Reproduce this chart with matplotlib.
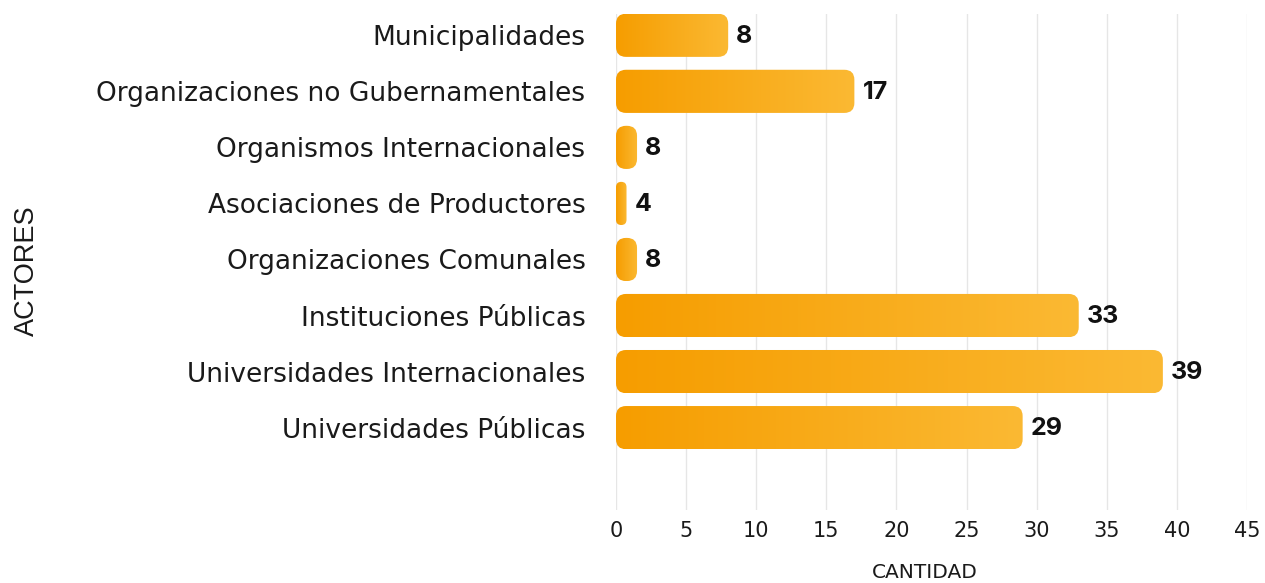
import matplotlib.pyplot as plt
import numpy as np
from matplotlib.patches import FancyBboxPatch
from matplotlib.colors import LinearSegmentedColormap

# datos (de abajo hacia arriba)
actores = [
    'Universidades Públicas',
    'Universidades Internacionales',
    'Instituciones Públicas',
    'Organizaciones Comunales',
    'Asociaciones de Productores',
    'Organismos Internacionales',
    'Organizaciones no Gubernamentales',
    'Municipalidades',
]
longitud = [29, 39, 33, 1.5, 0.75, 1.5, 17, 8]
etiquetas = ['29', '39', '33', '8', '4', '8', '17', '8']
xticks = [0, 5, 10, 15, 20, 25, 30, 35, 40, 45]

W, H = 1265, 583
fig = plt.figure(figsize=(W / 100, H / 100), dpi=100)
ax = fig.add_axes([616 / W, 73 / H, 631 / W, 496 / H])

ylim = (-1.47, 7.38)
bars = ax.barh(range(len(actores)), longitud, height=0.77, color='none')

# pixels por unidad para redondear las esquinas
px_x = 631 / 45
px_y = 496 / (ylim[1] - ylim[0])
radio = 10

cmap = LinearSegmentedColormap.from_list('naranja', ['#F69D00', '#FBB933'])
grad = np.linspace(0, 1, 256).reshape(1, -1)

for bar, etiqueta in zip(bars, etiquetas):
    x0, y0 = bar.get_x(), bar.get_y()
    w, h = bar.get_width(), bar.get_height()
    r = min(radio, w * px_x / 2, h * px_y / 2)
    patch = FancyBboxPatch(
        (x0, y0), w, h,
        boxstyle=f'round,pad=0,rounding_size={r / px_x}',
        mutation_aspect=px_x / px_y,
        fc='none', ec='none'
    )
    ax.add_patch(patch)
    im = ax.imshow(grad, extent=[x0, x0 + w, y0, y0 + h], aspect='auto',
                   cmap=cmap, zorder=2, interpolation='bilinear')
    im.set_clip_path(patch)
    ax.annotate(etiqueta, (x0 + w, y0 + h / 2), xytext=(8, -1),
                textcoords='offset pixels', va='center', ha='left',
                fontsize=18, fontweight='bold', family='Inter',
                color='#111111')

ax.set_xlim(0, 45)
ax.set_ylim(*ylim)
ax.set_xticks(xticks)
ax.set_yticks(range(len(actores)), actores)
ax.tick_params(axis='y', length=0, pad=22, labelsize=19, labelcolor='#1a1a1a')
ax.tick_params(axis='x', length=0, pad=8, labelsize=15, labelcolor='#1a1a1a')
ax.grid(axis='x', color='#e6e6e6', lw=1)
ax.set_axisbelow(True)
for s in ax.spines.values():
    s.set_visible(False)

ax.set_xlabel('CANTIDAD', fontsize=14.5, color='#1a1a1a', va='center')
ax.xaxis.set_label_coords(0.49, -0.125)
ax.set_ylabel('ACTORES', fontsize=19.5, family='Liberation Sans',
              color='#1a1a1a', va='center')
ax.yaxis.set_label_coords(-0.933, 0.482)

plt.savefig('out.png', dpi=100)
